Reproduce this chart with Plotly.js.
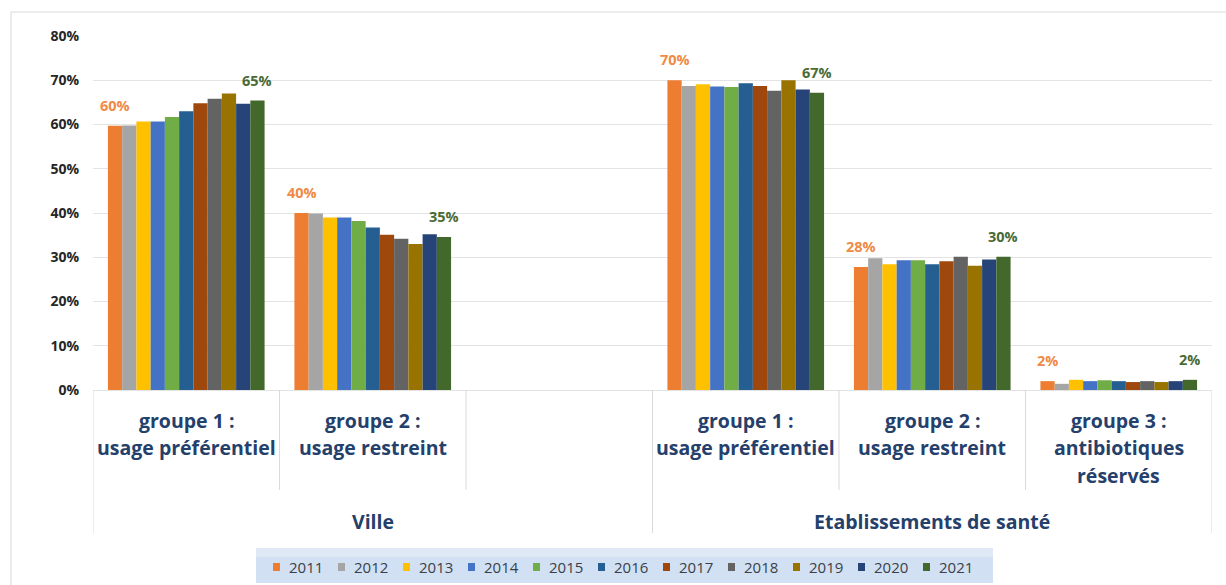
<!DOCTYPE html>
<html>
<head>
<meta charset="utf-8">
<script src="https://cdn.plot.ly/plotly-3.0.1.min.js"></script>
<style>
  html, body { margin: 0; padding: 0; background: #ffffff; }
  #chart { width: 1226px; height: 585px; }
</style>
</head>
<body>
<div id="chart"></div>
<script>
// ---- Data ----
const years = ["2011","2012","2013","2014","2015","2016","2017","2018","2019","2020","2021"];
const categories = ["Ville|g1","Ville|g2","Ville|vide","Etab|g1","Etab|g2","Etab|g3"];
const subLabels = [
  ["groupe 1 :", "usage préférentiel"],
  ["groupe 2 :", "usage restreint"],
  [],
  ["groupe 1 :", "usage préférentiel"],
  ["groupe 2 :", "usage restreint"],
  ["groupe 3 :", "antibiotiques", "réservés"]
];
const groupLabels = ["Ville", "Etablissements de santé"];
const groupSpans = [[0, 2], [3, 5]];

const villeG1 = [0.597,0.598,0.607,0.607,0.617,0.630,0.648,0.658,0.670,0.647,0.654];
const villeG2 = [0.400,0.399,0.390,0.390,0.382,0.367,0.351,0.342,0.330,0.352,0.346];
const villeVide = [null,null,null,null,null,null,null,null,null,null,null];
const etabG1 = [0.700,0.687,0.691,0.686,0.685,0.693,0.687,0.676,0.700,0.679,0.672];
const etabG2 = [0.278,0.298,0.284,0.293,0.293,0.284,0.291,0.301,0.281,0.295,0.301];
const etabG3 = [0.020,0.014,0.023,0.020,0.022,0.020,0.018,0.020,0.018,0.020,0.023];
const seriesByCat = [villeG1, villeG2, villeVide, etabG1, etabG2, etabG3];

const colors = ["#ED7D31","#A5A5A5","#FFC000","#4472C4","#70AD47","#255E91",
                "#9E480E","#636363","#997300","#264478","#43682B"];
const labelColors = {0: "#F08A45", 10: "#4A6B35"};

// ---- Layout constants ----
const W = 1226, H = 585;
const M = {l: 93, r: 14, t: 36, b: 195};
const PW = W - M.l - M.r, PH = H - M.t - M.b;
const px2x = p => (p - M.l) / PW;
const py2y = p => (H - M.b - p) / PH;
const bargap = 0.16;

const traces = years.map((yr, i) => ({
  type: "bar",
  name: yr,
  x: categories,
  y: seriesByCat.map(s => s[i]),
  marker: {color: colors[i], line: {width: 0}},
  hoverinfo: "x+y+name"
}));

const annotations = [];
const shapes = [];
const nT = years.length;
const bw = (1 - bargap) / nT;

// data labels on first and last year
[0, nT - 1].forEach(i => {
  seriesByCat.forEach((s, c) => {
    const v = s[i];
    if (v === null || v === undefined) return;
    annotations.push({
      xref: "x", yref: "y",
      x: c - (1 - bargap) / 2 + (i + 0.5) * bw,
      y: v,
      text: Math.round(v * 100) + "%",
      showarrow: false,
      xanchor: "center", yanchor: "bottom",
      yshift: 9,
      font: {family: "Open Sans", size: 14.5, weight: "bold", color: labelColors[i]}
    });
  });
});

// category labels
const lineY = [420, 447, 475];
subLabels.forEach((lines, c) => {
  lines.forEach((t, k) => {
    annotations.push({
      xref: "x", yref: "paper",
      x: c, y: py2y(lineY[k]),
      text: t, showarrow: false,
      xanchor: "center", yanchor: "middle",
      font: {family: "Open Sans", size: 19.5, weight: "bold", color: "#24406B"}
    });
  });
});
groupLabels.forEach((g, k) => {
  annotations.push({
    xref: "x", yref: "paper",
    x: (groupSpans[k][0] + groupSpans[k][1]) / 2, y: py2y(521),
    text: g, showarrow: false,
    xanchor: "center", yanchor: "middle",
    font: {family: "Open Sans", size: 19.5, weight: "bold", color: "#24406B"}
  });
});

// category dividers
for (let k = 0; k <= categories.length; k++) {
  const xb = k - 0.5;
  const outer = (k === 0 || k === 3 || k === categories.length);
  shapes.push({
    type: "line", xref: "x", yref: "paper",
    x0: xb, x1: xb, y0: 0, y1: py2y(outer ? 533 : 490),
    line: {color: "#D9D9D9", width: 1}
  });
}
// outer chart frame
shapes.push({
  type: "rect", xref: "paper", yref: "paper",
  x0: px2x(11), x1: px2x(1260), y0: py2y(12), y1: py2y(640),
  line: {color: "#D9D9D9", width: 1}, fillcolor: "rgba(0,0,0,0)", layer: "below"
});

// legend (band + swatches + labels), built from years / colors
const LEG = {left: 256, right: 993, top: 548, bottom: 583, first: 273, step: 65, sw: 7, sh: 8, cy: 567, gap: 14};
shapes.push({
  type: "rect", xref: "paper", yref: "paper",
  x0: px2x(LEG.left), x1: px2x(LEG.right), y0: py2y(LEG.top), y1: py2y(LEG.bottom),
  line: {width: 0}, fillcolor: "#D1E0F2", layer: "below"
});
shapes.push({
  type: "rect", xref: "paper", yref: "paper",
  x0: px2x(LEG.left), x1: px2x(LEG.right), y0: py2y(LEG.top), y1: py2y(LEG.top + 9),
  line: {width: 0}, fillcolor: "#DFE9F6", layer: "below"
});
years.forEach((yr, i) => {
  const sx = LEG.first + i * LEG.step;
  shapes.push({
    type: "rect", xref: "paper", yref: "paper",
    x0: px2x(sx), x1: px2x(sx + LEG.sw),
    y0: py2y(LEG.cy - LEG.sh / 2), y1: py2y(LEG.cy + LEG.sh / 2),
    line: {width: 0}, fillcolor: colors[i]
  });
  annotations.push({
    xref: "paper", yref: "paper",
    x: px2x(sx + LEG.gap), y: py2y(LEG.cy),
    text: yr, showarrow: false,
    xanchor: "left", yanchor: "middle",
    font: {family: "Open Sans", size: 15, color: "#3A3F48"}
  });
});

const layout = {
  width: W, height: H,
  margin: M,
  paper_bgcolor: "#ffffff",
  plot_bgcolor: "#ffffff",
  font: {family: "Open Sans", color: "#262626"},
  barmode: "group",
  bargap: bargap,
  bargroupgap: 0,
  showlegend: false,
  xaxis: {
    type: "category",
    categoryorder: "array",
    categoryarray: categories,
    range: [-0.5, categories.length - 0.5],
    showticklabels: false,
    showgrid: false,
    zeroline: false,
    showline: false,
    ticks: ""
  },
  yaxis: {
    range: [0, 0.8],
    dtick: 0.1,
    tick0: 0,
    tickformat: ".0%",
    showgrid: true,
    gridcolor: "#E3E3E3",
    gridwidth: 1,
    zeroline: true,
    zerolinecolor: "#E3E3E3",
    zerolinewidth: 1,
    showline: false,
    ticks: "",
    ticklabelstandoff: 13,
    tickfont: {family: "Open Sans", size: 14, weight: "bold", color: "#262626"}
  },
  annotations: annotations,
  shapes: shapes
};

Plotly.newPlot("chart", traces, layout, {displayModeBar: false, staticPlot: true});
</script>
</body>
</html>
